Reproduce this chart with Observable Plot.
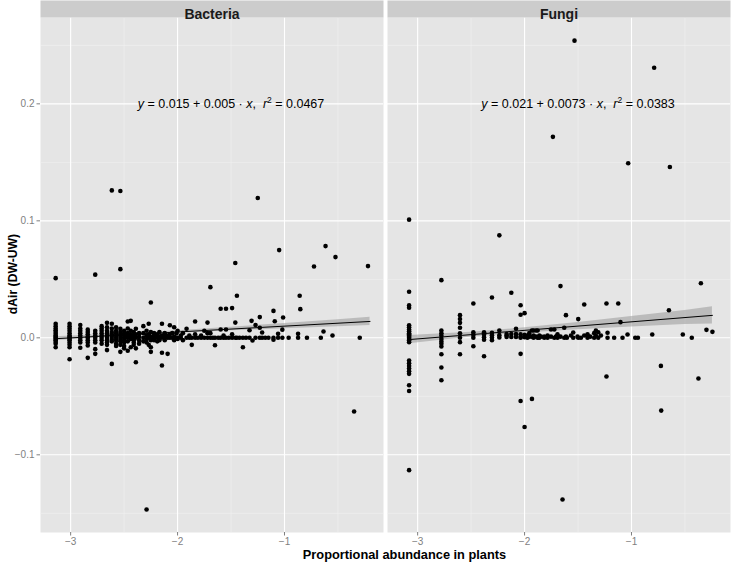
<!DOCTYPE html>
<html>
<head>
<meta charset="utf-8">
<script src="https://cdn.jsdelivr.net/npm/d3@7"></script>
<script src="https://cdn.jsdelivr.net/npm/@observablehq/plot@0.6"></script>
<style>
  html, body { margin: 0; padding: 0; background: #ffffff; }
  svg { display: block; }
</style>
</head>
<body>
<div id="chart"></div>
<script>
// ---------- data ----------
const facets = ["Bacteria", "Fungi"];

// columns of points: [x, [y values]]
const bacteriaCols = [
  [-3.14, [0.051, 0.012, 0.010, 0.008, 0.0065, 0.005, 0.0035, 0.002, 0.001, 0, -0.001, -0.002, -0.0035, -0.005, -0.008]],
  [-3.01, [0.012, 0.010, 0.008, 0.006, 0.004, 0.002, 0.001, 0, -0.001, -0.002, -0.004, -0.006, -0.008, -0.0183]],
  [-2.91, [0.011, 0.008, 0.006, 0.004, 0.002, 0, -0.002, -0.004, -0.0085]],
  [-2.84, [0.007, 0.005, 0.003, 0.001, 0, -0.002, -0.004, -0.0066, -0.0171]],
  [-2.77, [0.054, 0.006, 0.004, 0.002, 0, -0.002, -0.004, -0.0097, -0.0137]],
  [-2.71, [0.010, 0.008, 0.006, 0.004, 0.002, 0, -0.002, -0.005]],
  [-2.66, [0.0128, 0.009, 0.006, 0.004, 0.002, 0, -0.002, -0.004, -0.006, -0.0105]],
  [-2.615, [0.126, 0.012, 0.008, 0.005, 0.003, 0.001, -0.001, -0.003, -0.0223]],
  [-2.575, [0.009, 0.006, 0.004, 0.002, 0, -0.002, -0.005, -0.007]],
  [-2.535, [0.1255, 0.0587, 0.0077, 0.005, 0.003, 0.001, -0.001, -0.003, -0.006, -0.012]],
  [-2.50, [0.006, 0.004, 0.002, 0, -0.002, -0.004, -0.007, -0.009]],
  [-2.466, [0.014, 0.008, 0.004, 0.002, 0, -0.003, -0.011]],
  [-2.438, [0.0145, 0.006, 0.003, 0.001, -0.001, -0.008]],
  [-2.41, [0.005, 0.002, 0, -0.002, -0.004, -0.006]],
  [-2.39, [0.0077, 0.003, 0, -0.009, -0.0209]],
  [-2.36, [0.004, 0.001, -0.002, -0.005]],
  [-2.32, [0.010, 0.004, 0, -0.003]],
  [-2.29, [0.006, 0.002, -0.001, -0.004, -0.1467]],
  [-2.27, [0.012, 0.003, 0, -0.006]],
  [-2.25, [0.0302, 0.005, 0.001, -0.002, -0.008, -0.012]],
  [-2.22, [0.004, 0.002, 0, -0.002]],
  [-2.19, [0.003, 0, -0.003]],
  [-2.17, [0.005, 0.001, -0.002]],
  [-2.146, [0.012, 0.002, 0, -0.0128, -0.0237]],
  [-2.12, [0.004, 0.001, -0.002]],
  [-2.093, [0.002, 0, -0.0137]],
  [-2.072, [0.0108, 0.003, 0]],
  [-2.05, [0.004, 0]],
  [-2.032, [0.0091, 0.001, -0.002]],
  [-2.01, [0.004, 0]],
  [-2.0, [0.006, 0, -0.001]],
  [-1.97, [0.002, 0]],
  [-1.95, [0.004, -0.002]],
  [-1.916, [0.0077, 0]],
  [-1.89, [0.002, 0]],
  [-1.867, [0, -0.006]],
  [-1.836, [0.014, 0.003, 0]],
  [-1.81, [0]],
  [-1.78, [0.002, 0]],
  [-1.75, [0.006, 0]],
  [-1.72, [0.013, 0.004, 0]],
  [-1.693, [0.0433, 0.004, 0]],
  [-1.67, [0]],
  [-1.65, [0, -0.0063]],
  [-1.62, [0]],
  [-1.597, [0.0248, 0.0071, 0]],
  [-1.57, [0.002, 0]],
  [-1.547, [0.0248, 0.0071, 0]],
  [-1.52, [0]],
  [-1.49, [0.0254, 0.003, 0]],
  [-1.46, [0.064, 0.013, 0]],
  [-1.445, [0.036, 0]],
  [-1.42, [0]],
  [-1.389, [0, -0.008]],
  [-1.36, [0]],
  [-1.327, [0.0065, 0]],
  [-1.308, [0.0145]],
  [-1.299, [-0.0023]],
  [-1.271, [0.011, 0]],
  [-1.25, [0.1195]],
  [-1.231, [0.0177, 0.0086, 0]],
  [-1.209, [0.0045, 0]],
  [-1.18, [0]],
  [-1.15, [0]],
  [-1.103, [0.023, -0.0017, 0]],
  [-1.091, [0.0142]],
  [-1.06, [0.0034, 0]],
  [-1.05, [0.075]],
  [-1.02, [0.007, 0]],
  [-1.013, [0.0174]],
  [-0.961, [0]],
  [-0.873, [0.0034, 0]],
  [-0.858, [0.036]],
  [-0.852, [0.0245]],
  [-0.79, [0]],
  [-0.724, [0.061]],
  [-0.66, [0]],
  [-0.635, [0.0054]],
  [-0.616, [0.0784]],
  [-0.551, [0.002]],
  [-0.523, [0.069]],
  [-0.349, [-0.063]],
  [-0.296, [0]],
  [-0.219, [0.0613]]
];

const fungiCols = [
  [-3.08, [0.101, 0.0394, 0.0277, 0.0257, 0.0108, 0.0091, 0.0071, 0.0057, 0.004, 0.003, 0.002, 0.001, 0, -0.001, -0.002, -0.0037, -0.0194, -0.0217, -0.024, -0.0263, -0.0286, -0.0308, -0.0406, -0.0454, -0.1131]],
  [-2.778, [0.0493, 0.0063, 0.0039, 0.0017, -0.0009, -0.0032, -0.0051, -0.0074, -0.014, -0.0254, -0.0363]],
  [-2.604, [0.0194, 0.016, 0.0128, 0.0086, 0.0039, 0, -0.0037, -0.014]],
  [-2.479, [0.0294, 0.0048, 0.0025, 0, -0.0072]],
  [-2.379, [0.0048, 0.0028, 0.0005, -0.0017, -0.0158]],
  [-2.305, [0.0345, 0.0043, 0.0023, 0.0003, -0.002]],
  [-2.236, [0.0876, 0.0063, 0.0023, 0.0003]],
  [-2.168, [0.0033, 0.002, 0.0008]],
  [-2.124, [0.0385, 0.0033, 0.0008]],
  [-2.08, [0.0077, 0.0033, 0.0008]],
  [-2.037, [0.0279, 0.0197, 0.003, 0.001, 0, -0.0137, -0.054]],
  [-2.0, [0.0211, 0.0025, 0.0005, -0.0762]],
  [-1.973, [0.002, 0]],
  [-1.956, [0.004, 0.001]],
  [-1.931, [0.0063, 0.001, -0.0522]],
  [-1.916, [0.0063, 0.002, 0]],
  [-1.893, [0.0063, 0.001]],
  [-1.878, [0.0063, 0]],
  [-1.862, [0.002, 0]],
  [-1.847, [0.001]],
  [-1.816, [0.001, 0]],
  [-1.785, [0.002, 0]],
  [-1.753, [0.0071, 0.001]],
  [-1.735, [0.1718]],
  [-1.722, [0.0071, 0]],
  [-1.707, [0.001]],
  [-1.692, [0.003, 0]],
  [-1.664, [0.0442, 0.001]],
  [-1.645, [-0.1382]],
  [-1.629, [0.0086, 0]],
  [-1.613, [0.0194, 0.001]],
  [-1.604, [0]],
  [-1.566, [0.002]],
  [-1.545, [0.0045, 0]],
  [-1.533, [0.254]],
  [-1.505, [0.001]],
  [-1.498, [0.016, 0]],
  [-1.473, [0]],
  [-1.442, [0.0285, 0.002]],
  [-1.411, [0.003, 0]],
  [-1.386, [0.001]],
  [-1.349, [0.004, 0]],
  [-1.333, [0.0063, 0.002]],
  [-1.311, [0.0048, 0]],
  [-1.286, [0.002]],
  [-1.234, [0.0294, -0.0331]],
  [-1.224, [0.0043, 0]],
  [-1.162, [0]],
  [-1.124, [0.0294]],
  [-1.103, [0.0134]],
  [-1.084, [0]],
  [-1.037, [0.0028]],
  [-1.031, [0.1492]],
  [-0.965, [0]],
  [-0.94, [0]],
  [-0.806, [0.0028]],
  [-0.788, [0.2308]],
  [-0.725, [-0.024]],
  [-0.722, [-0.0622]],
  [-0.65, [0.0236]],
  [-0.641, [0.146]],
  [-0.52, [0.0028]],
  [-0.436, [0]],
  [-0.374, [-0.0348]],
  [-0.351, [0.0467]],
  [-0.299, [0.0068]],
  [-0.243, [0.0051]]
];

// fitted lines (endpoints) and confidence ribbons
const bacteriaFitX = [-3.15, -0.2];
const bacteriaFitY = [-0.0008, 0.014];
const fungiFitX = [-3.08, -0.243];
const fungiFitY = [-0.0015, 0.0192];

const bacteriaBandX  = [-3.15, -2.5, -2.0, -1.5, -1.0, -0.5, -0.2];
const bacteriaBandLo = [-0.0025, 0.0015, 0.0040, 0.0060, 0.0077, 0.0095, 0.0105];
const bacteriaBandHi = [0.0010, 0.0035, 0.0060, 0.0090, 0.0123, 0.0155, 0.0175];
const fungiBandX  = [-3.08, -2.5, -2.0, -1.5, -1.0, -0.5, -0.243];
const fungiBandLo = [-0.0050, 0.0007, 0.0042, 0.0070, 0.0092, 0.0113, 0.0118];
const fungiBandHi = [0.0020, 0.0047, 0.0086, 0.0130, 0.0182, 0.0233, 0.0266];

// equation labels
const eqIntercept = ["0.015", "0.021"];
const eqSlope = ["0.005", "0.0073"];
const eqR2 = ["0.0467", "0.0383"];
const eqX = [-1.5, -1.5];
const eqY = [0.2, 0.2];

// axes
const xTicks = [-3, -2, -1];
const xMinor = [-2.5, -1.5, -0.5];
const yTicks = [-0.1, 0, 0.1, 0.2];
const yMinor = [-0.15, -0.05, 0.05, 0.15, 0.25];
const xTitle = "Proportional abundance in plants";
const yTitle = "dAir (DW-UW)";

// ---------- build tables ----------
const points = [];
[bacteriaCols, fungiCols].forEach((cols, k) => {
  cols.forEach(([x, ys]) => ys.forEach(y => points.push({group: facets[k], x, y})));
});
const fit = [];
[[bacteriaFitX, bacteriaFitY], [fungiFitX, fungiFitY]].forEach(([xs, ys], k) =>
  xs.forEach((x, i) => fit.push({group: facets[k], x, y: ys[i]})));
const band = [];
[[bacteriaBandX, bacteriaBandLo, bacteriaBandHi], [fungiBandX, fungiBandLo, fungiBandHi]].forEach(([xs, lo, hi], k) =>
  xs.forEach((x, i) => band.push({group: facets[k], x, lo: lo[i], hi: hi[i]})));
const eqs = facets.map((g, i) => ({
  group: g, x: eqX[i], y: eqY[i],
  text: `y = ${eqIntercept[i]} + ${eqSlope[i]} · x,  r2 = ${eqR2[i]}`,
  a: eqIntercept[i], b: eqSlope[i], r: eqR2[i]
}));

const minus = s => String(s).replace("-", "\u2212");
const FONT = "'Liberation Sans', Arial, Helvetica, sans-serif";

const chart = Plot.plot({
  width: 733,
  height: 566,
  marginLeft: 39,
  marginRight: 2,
  marginTop: 17,
  marginBottom: 34,
  style: {fontFamily: FONT, background: "#ffffff", color: "#000000"},
  x: {domain: [-3.282, -0.074]},
  y: {domain: [-0.1664, 0.2738]},
  fx: {domain: facets, paddingInner: 0.0101, paddingOuter: 0, axis: null, label: null},
  marks: [
    Plot.frame({fill: "#E5E5E5"}),
    Plot.ruleY(yMinor, {stroke: "#F2F2F2", strokeWidth: 0.6}),
    Plot.ruleX(xMinor, {stroke: "#F2F2F2", strokeWidth: 0.6}),
    Plot.ruleY(yTicks, {stroke: "#FFFFFF", strokeWidth: 1.1}),
    Plot.ruleX(xTicks, {stroke: "#FFFFFF", strokeWidth: 1.1}),
    Plot.areaY(band, {x: "x", y1: "lo", y2: "hi", fx: "group", fill: "#999999", fillOpacity: 0.55}),
    Plot.line(fit, {x: "x", y: "y", fx: "group", stroke: "#000000", strokeWidth: 1}),
    Plot.dot(points, {x: "x", y: "y", fx: "group", r: 2.3, fill: "#000000"}),
    Plot.text(eqs, {x: "x", y: "y", fx: "group", text: "text", fontSize: 12.5, fill: "#000000", textAnchor: "middle"}),
    Plot.frame({fill: "#CCCCCC", insetBottom: 498, dy: -17}),
    Plot.text(facets, {fx: d => d, text: d => d, frameAnchor: "top", dy: -8, fontSize: 14, fontWeight: "bold", fill: "#1A1A1A"}),
    Plot.axisY({ticks: yTicks, tickSize: 3.5, tickPadding: 2.5, fontSize: 10, color: "#7F7F7F", label: null,
      tickFormat: d => minus(d.toFixed(1))}),
    Plot.axisX({ticks: xTicks, tickSize: 3.5, tickPadding: 1.5, fontSize: 10, color: "#7F7F7F", label: null,
      tickFormat: d => minus(d)}),
    Plot.text([xTitle], {text: d => d, frameAnchor: "bottom", facet: "super", dy: 26, dx: 19, fontSize: 12.8, fontWeight: "bold", fill: "#000000"}),
    Plot.text([yTitle], {text: d => d, frameAnchor: "left", textAnchor: "middle", facet: "super", rotate: -90, dx: -27, dy: -1, fontSize: 12.2, fontWeight: "bold", fill: "#000000"})
  ]
});

document.getElementById("chart").appendChild(chart);

// Rich formatting of the regression equations (italic variables, superscript 2)
const svg = d3.select(chart);
svg.selectAll("text").each(function() {
  const t = this.textContent;
  const eq = eqs.find(e => e.text === t);
  if (!eq) return;
  const sel = d3.select(this);
  sel.text(null).style("white-space", "pre");
  sel.append("tspan").attr("font-style", "italic").text("y");
  sel.append("tspan").text(` = ${eq.a} + ${eq.b} · `);
  sel.append("tspan").attr("font-style", "italic").text("x");
  sel.append("tspan").text(",  ");
  sel.append("tspan").attr("font-style", "italic").text("r");
  sel.append("tspan").attr("font-size", "8.5").attr("dy", "-4.5").text("2");
  sel.append("tspan").attr("dy", "4.5").text(` = ${eq.r}`);
});
</script>
</body>
</html>
